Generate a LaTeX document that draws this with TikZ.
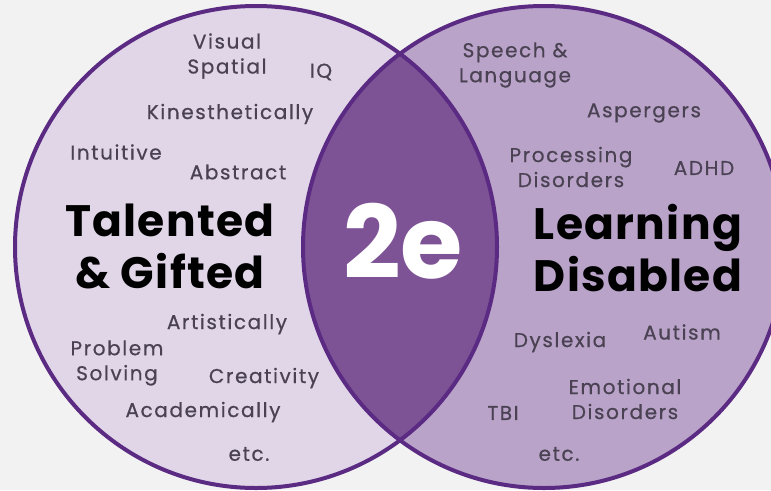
\documentclass[tikz,border=0pt]{standalone}
\usepackage{fontspec}
\setmainfont{Poppins}
\newfontfamily\smallfont{Poppins}[LetterSpace=8,FakeBold=0.6]
\newfontfamily\bigfont{Poppins}[LetterSpace=3]
\definecolor{bgc}{HTML}{F2F2F2}
\definecolor{leftc}{HTML}{E0D6E8}
\definecolor{rightc}{HTML}{B9A3C9}
\definecolor{lensc}{HTML}{7E5396}
\definecolor{edgec}{HTML}{5B2A82}
\definecolor{txtc}{HTML}{4A4252}
\tikzset{
  small/.style={text=txtc, font=\smallfont\fontsize{20}{25}\selectfont, align=center, inner sep=0pt, yshift=-2pt},
  big/.style={text=black, font=\bigfont\fontsize{44}{52}\selectfont\bfseries, align=center, inner sep=0pt},
  two/.style={text=white, font=\fontsize{101}{105}\selectfont\bfseries, inner sep=0pt},
  ring/.style={draw=edgec, line width=4pt}
}
\begin{document}
\begin{tikzpicture}[x=1pt,y=-1pt]
\useasboundingbox (0,0) rectangle (771,490);
\fill[bgc] (0,0) rectangle (771,490);
\fill[leftc] (256,247) circle (241);
\fill[rightc] (544,247) circle (241);
\begin{scope}
  \clip (256,247) circle (241);
  \fill[lensc] (544,247) circle (241);
\end{scope}
\draw[ring] (256,247) circle (241);
\draw[ring] (544,247) circle (241);
% left circle
\node[small] (vs) at (227,54) {Visual\\Spatial};
\node[small] (iq) at (321,70) {IQ};
\node[small] (kin) at (230,112) {Kinesthetically};
\node[small] (int) at (116,150) {Intuitive};
\node[small] (abs) at (238,170) {Abstract};
\node[big] (tg) at (170,246) {Talented\\\& Gifted};
\node[small] (art) at (227,322) {Artistically};
\node[small] (ps) at (117,361) {Problem\\Solving};
\node[small] (cre) at (264,376) {Creativity};
\node[small] (aca) at (203,410) {Academically};
\node[small] (etcl) at (249,452) {etc.};
% lens
\node[two] (te) at (403,241) {2e};
% right circle
\node[small] (sl) at (515,63) {Speech \&\\Language};
\node[small] (asp) at (644,111) {Aspergers};
\node[small] (pd) at (571,165) {Processing\\Disorders};
\node[small] (adhd) at (704,166) {ADHD};
\node[big] (ld) at (638,248) {Learning\\Disabled};
\node[small] (dys) at (560,340) {Dyslexia};
\node[small] (aut) at (682,330) {Autism};
\node[small] (emo) at (625,397) {Emotional\\Disorders};
\node[small] (tbi) at (503,411) {TBI};
\node[small] (etcr) at (559,452) {etc.};
\end{tikzpicture}
\end{document}
